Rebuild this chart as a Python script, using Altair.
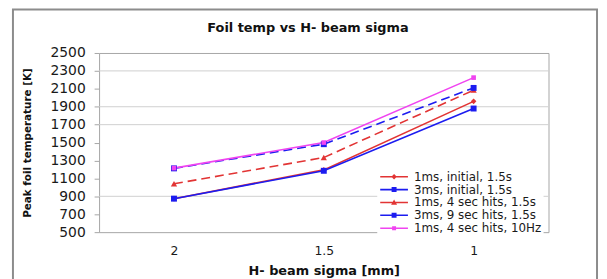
import altair as alt
import pandas as pd

# ---- data ----
sigma = ["2", "1.5", "1"]
series = [
    "1ms, initial, 1.5s",
    "3ms, initial, 1.5s",
    "1ms, 4 sec hits, 1.5s",
    "3ms, 9 sec hits, 1.5s",
    "1ms, 4 sec hits, 10Hz",
]
s1 = [874, 1195, 1960]
s2 = [874, 1185, 1880]
s3 = [1040, 1333, 2085]
s4 = [1212, 1482, 2110]
s5 = [1215, 1500, 2225]
values = [s1, s2, s3, s4, s5]
y_ticks = [500, 700, 900, 1100, 1300, 1500, 1700, 1900, 2100, 2300, 2500]
grid_values = [2300, 1900, 1700, 900]

# ---- styles ----
colors = ["#e23434", "#1c1cf0", "#e23434", "#1c1cf0", "#f044f0"]
dashes = [None, None, [9, 5], [9, 5], None]
markers = ["diamond", "square", "triangle-up", "square", "square"]
msizes = [32, 36, 40, 36, 22]

# legend symbols: unit = sqrt(100)/2 = 5 px; symbol centre sits 5 px from the legend's left
LINE = "M-1,-0.16L4.6,-0.16L4.6,0.16L-1,0.16Z"
SQ = "M1.3,-0.5L2.3,-0.5L2.3,0.5L1.3,0.5Z"
SQS = "M1.4,-0.4L2.2,-0.4L2.2,0.4L1.4,0.4Z"
DIA = "M1.8,-0.55L2.35,0L1.8,0.55L1.25,0Z"
TRI = "M1.8,-0.6L2.4,0.45L1.2,0.45Z"
legend_paths = [LINE + DIA, LINE + SQ, LINE + TRI, LINE + SQ, LINE + SQS]

rows = []
for name, vals in zip(series, values):
    for i, (s, v) in enumerate(zip(sigma, vals)):
        rows.append({"series": name, "sigma": s, "temp": v, "idx": i})
df = pd.DataFrame(rows)
grid_df = pd.DataFrame({"temp": grid_values})

FONT = "DejaVu Sans"

x_enc = alt.X(
    "sigma:N",
    sort=sigma,
    scale=alt.Scale(type="point", padding=0.5, domain=sigma),
    axis=alt.Axis(
        title="H- beam sigma [mm]",
        labelAngle=0,
        ticks=False,
        domain=False,
        grid=False,
        labelFont=FONT,
        labelFontSize=12.5,
        labelColor="#1a1a1a",
        labelPadding=13,
        titleFont=FONT,
        titleFontSize=13,
        titleFontWeight="bold",
        titleColor="#111111",
        titleY=39,
        titleBaseline="middle",
    ),
)
y_enc = alt.Y(
    "temp:Q",
    scale=alt.Scale(domain=[500, 2500], nice=False, zero=False),
    axis=alt.Axis(
        values=y_ticks,
        format="d",
        title="Peak foil temperature [K]",
        grid=False,
        domain=False,
        tickSize=5,
        tickColor="#a6a6a6",
        labelPadding=9,
        labelFont=FONT,
        labelFontSize=14,
        labelColor="#1a1a1a",
        titleFont=FONT,
        titleFontSize=10.5,
        titleFontWeight="bold",
        titleColor="#111111",
        titleX=-72,
        titleY=90.5,
        titleAlign="center",
        titleBaseline="middle",
    ),
)

frame = alt.Chart(pd.DataFrame({"a": [0]})).mark_rect(
    fillOpacity=0, stroke="#8c8c8c", strokeWidth=2, clip=False
).encode(
    x=alt.value(-87), x2=alt.value(503), y=alt.value(-44), y2=alt.value(240)
)

grid = alt.Chart(grid_df).mark_rule(color="#cfcfcf", strokeWidth=1).encode(y=y_enc)

layers = [frame, grid]
base = alt.Chart(df)
for name, c, d in zip(series, colors, dashes):
    kw = dict(color=c, strokeWidth=1.6)
    if d:
        kw["strokeDash"] = d
    layers.append(
        base.transform_filter(alt.datum.series == name)
        .mark_line(**kw)
        .encode(x=x_enc, y=y_enc, order="idx:Q")
    )
for name, c, m, sz in zip(series, colors, markers, msizes):
    layers.append(
        base.transform_filter(alt.datum.series == name)
        .mark_point(filled=True, shape=m, color=c, size=sz, opacity=1)
        .encode(x=x_enc, y=y_enc)
    )

leg = alt.Legend(
    title=None,
    orient="none",
    legendX=281,
    legendY=117,
    padding=2,
    fillColor="white",
    labelFont=FONT,
    labelFontSize=12,
    labelColor="#1a1a1a",
    labelOffset=23,
    rowPadding=1,
    symbolSize=100,
    symbolStrokeWidth=0,
    symbolOpacity=1,
)
legend_layer = (
    base.transform_filter("false")
    .mark_point(filled=True, opacity=1)
    .encode(
        x=x_enc,
        y=y_enc,
        color=alt.Color("series:N", scale=alt.Scale(domain=series, range=colors), legend=leg),
        shape=alt.Shape("series:N", scale=alt.Scale(domain=series, range=legend_paths), legend=leg),
    )
)
layers.append(legend_layer)

chart = (
    alt.layer(*layers)
    .properties(
        width=454,
        height=181,
        padding={"left": 92, "top": 44, "right": 51, "bottom": 58},
        autosize=alt.AutoSizeParams(type="none"),
        title=alt.TitleParams(
            "Foil temp vs H- beam sigma",
            font=FONT,
            fontSize=13,
            fontWeight="bold",
            color="#111111",
            anchor="middle",
            frame="group",
            dx=-16,
            offset=-27,
        ),
    )
    .configure_view(stroke="#a6a6a6", strokeWidth=1)
)

chart.save("out.html", embed_options={"renderer": "svg", "actions": False})
